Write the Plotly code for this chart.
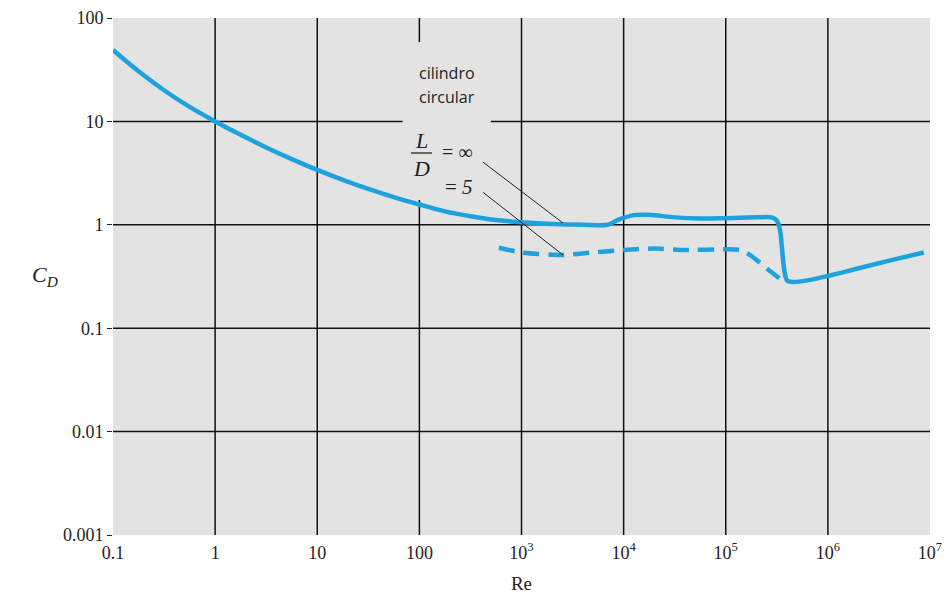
import plotly.graph_objects as go

# ---------------- data ----------------
re_inf = [0.1, 0.178, 0.316, 0.562, 1.0, 1.78, 3.16, 5.62, 10.0, 17.8, 31.6, 56.2, 100.0,
          178.0, 316.0, 562.0, 1000.0, 2000.0, 4000.0, 7000.0, 8900.0, 12600.0, 17800.0,
          31600.0, 56200.0, 100000.0, 200000.0, 282000.0, 316000.0, 339000.0, 355000.0,
          372000.0, 398000.0, 447000.0, 631000.0, 1000000.0, 2000000.0, 4000000.0, 8700000.0]
cd_inf = [49.0, 30.5, 20.0, 13.8, 10.0, 7.41, 5.60, 4.32, 3.40, 2.72, 2.22, 1.85, 1.57,
          1.35, 1.21, 1.11, 1.06, 1.02, 1.0, 1.0, 1.12, 1.24, 1.25,
          1.18, 1.15, 1.16, 1.18, 1.18, 1.1, 0.9, 0.6,
          0.38, 0.29, 0.28, 0.29, 0.32, 0.38, 0.45, 0.54]

re_5 = [600.0, 1000.0, 2500.0, 5000.0, 10000.0, 20000.0, 40000.0, 100000.0, 141000.0,
        178000.0, 251000.0, 355000.0]
cd_5 = [0.60, 0.54, 0.51, 0.54, 0.57, 0.59, 0.57, 0.58, 0.57, 0.50, 0.38, 0.29]

x_tickvals = [0.1, 1, 10, 100, 1e3, 1e4, 1e5, 1e6, 1e7]
x_ticktext = ["0.1", "1", "10", "100", "10<sup>3</sup>", "10<sup>4</sup>",
              "10<sup>5</sup>", "10<sup>6</sup>", "10<sup>7</sup>"]
y_tickvals = [0.001, 0.01, 0.1, 1, 10, 100]
y_ticktext = ["0.001", "0.01", "0.1", "1", "10", "100"]

BLUE = "#1ea2dd"
BG = "#e3e3e3"
SERIF = "Liberation Serif"

fig = go.Figure()
fig.add_trace(go.Scatter(x=re_inf, y=cd_inf, mode="lines",
                         line=dict(color=BLUE, width=4.5, shape="spline", smoothing=0.9),
                         showlegend=False, hoverinfo="skip"))
fig.add_trace(go.Scatter(x=re_5, y=cd_5, mode="lines",
                         line=dict(color=BLUE, width=4.5, dash="16px,9px", shape="spline", smoothing=0.6),
                         showlegend=False, hoverinfo="skip"))

shapes = []
# interior grid lines
for v in x_tickvals[1:-1]:
    shapes.append(dict(type="line", xref="x", yref="paper", x0=v, x1=v, y0=0, y1=1,
                       line=dict(color="#111", width=1.5), layer="below"))
for v in y_tickvals[1:-1]:
    shapes.append(dict(type="line", xref="paper", yref="y", x0=0, x1=1, y0=v, y1=v,
                       line=dict(color="#111", width=1.5), layer="below"))
# label box hiding grid lines
shapes.append(dict(type="rect", xref="x", yref="y", x0=10**1.836, x1=10**2.70,
                   y0=10**0.24, y1=10**1.768, fillcolor=BG, line=dict(width=0), layer="below"))
# leader lines
shapes.append(dict(type="line", xref="x", yref="y", x0=418, y0=4.05, x1=2550, y1=1.04,
                   line=dict(color="#222", width=1)))
shapes.append(dict(type="line", xref="x", yref="y", x0=418, y0=2.07, x1=2550, y1=0.51,
                   line=dict(color="#222", width=1)))

W, H = 945, 595
L, R, T, B = 113, 15, 18, 60
pw, ph = W - L - R, H - T - B

def px(x):
    return (x - L) / pw

def py(y):
    return (H - B - y) / ph

# fraction bar
shapes.append(dict(type="line", xref="paper", yref="paper", x0=px(411), x1=px(432),
                   y0=py(153), y1=py(153), line=dict(color="#222", width=1.3)))

def ann(x, y, text, family, size):
    return dict(x=px(x), y=py(y), text=text, showarrow=False, xref="paper", yref="paper",
                xanchor="center", yanchor="middle",
                font=dict(family=family, size=size, color="#222"))

annotations = [
    ann(447, 73, "cilindro", "Open Sans", 16),
    ann(447, 97, "circular", "Open Sans", 16),
    ann(421, 140, "<i>L</i>", SERIF, 22),
    ann(421, 168, "<i>D</i>", SERIF, 22),
    ann(457, 152, "= ∞", SERIF, 20),
    ann(459, 187, "= <i>5</i>", SERIF, 21),
    ann(45, 276, "<i>C<sub>D</sub></i>", SERIF, 22),
]

fig.update_layout(
    width=W, height=H,
    margin=dict(l=L, r=R, t=T, b=B, autoexpand=False),
    paper_bgcolor="white", plot_bgcolor=BG,
    shapes=shapes, annotations=annotations,
    xaxis=dict(type="log", range=[-1, 7], tickvals=x_tickvals, ticktext=x_ticktext,
               showgrid=False, zeroline=False, showline=False, ticks="", automargin=False,
               ticklabelstandoff=5,
               tickfont=dict(family=SERIF, size=18, color="#222"),
               title=dict(text="Re", font=dict(family=SERIF, size=19, color="#222"), standoff=14)),
    yaxis=dict(type="log", range=[-3, 2], tickvals=y_tickvals, ticktext=y_ticktext,
               showgrid=False, zeroline=False, showline=False, ticks="outside", ticklen=5,
               automargin=False,
               tickcolor="#222", tickfont=dict(family=SERIF, size=18, color="#222")),
)

fig.write_html("out.html")
